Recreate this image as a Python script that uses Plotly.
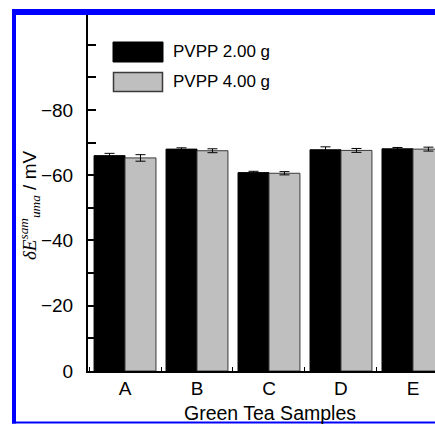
import plotly.graph_objects as go

samples = ["A", "B", "C", "D", "E"]
pvpp2 = [-66.0, -68.0, -60.8, -67.8, -68.1]
pvpp2_err = [0.7, 0.4, 0.4, 0.9, 0.4]
pvpp4 = [-65.3, -67.5, -60.6, -67.6, -68.0]
pvpp4_err = [1.0, 0.6, 0.5, 0.6, 0.6]
y_tick_vals = [0, -10, -20, -30, -40, -50, -60, -70, -80, -90, -100]
y_tick_text = ["0", " ", "\u221220", " ", "\u221240", " ", "\u221260", " ", "\u221280", " ", " "]
legend_names = ["PVPP 2.00 g", "PVPP 4.00 g"]

W, H = 435, 424
L, R, T, B = 88, 0, 15, 53
PW, PH = W - L - R, H - T - B


def px(x):
    return (x - L) / PW


def py(y):
    return (H - B - y) / PH


FONT = "Liberation Sans, Arial, sans-serif"

fig = go.Figure()
fig.add_trace(go.Bar(
    x=samples, y=pvpp2, name=legend_names[0],
    marker=dict(color="black", line=dict(color="black", width=1)),
    error_y=dict(type="data", array=pvpp2_err, color="black", thickness=1, width=5),
))
fig.add_trace(go.Bar(
    x=samples, y=pvpp4, name=legend_names[1],
    marker=dict(color="#bfbfbf", line=dict(color="#3a3a3a", width=1)),
    error_y=dict(type="data", array=pvpp4_err, color="black", thickness=1, width=5),
))

shapes = []
# blue frame
for (x0, x1, y0, y1) in [(12, 16, 9, 423.5), (12, 440, 9, 15), (12, 440, 421.5, 423.5)]:
    shapes.append(dict(type="rect", xref="paper", yref="paper",
                       x0=px(x0), x1=px(x1), y0=py(y1), y1=py(y0),
                       fillcolor="blue", line=dict(width=0), layer="above"))
# legend boxes
shapes.append(dict(type="rect", xref="paper", yref="paper",
                   x0=px(113), x1=px(163), y0=py(62), y1=py(42),
                   fillcolor="black", line=dict(color="black", width=1)))
shapes.append(dict(type="rect", xref="paper", yref="paper",
                   x0=px(113.5), x1=px(162.5), y0=py(91.5), y1=py(72.5),
                   fillcolor="#bfbfbf", line=dict(color="#3a3a3a", width=1.5)))

annotations = [
    dict(xref="paper", yref="paper", x=px(171), y=py(52), text=legend_names[0],
         showarrow=False, xanchor="left", yanchor="middle",
         font=dict(family=FONT, size=17, color="black")),
    dict(xref="paper", yref="paper", x=px(171), y=py(82), text=legend_names[1],
         showarrow=False, xanchor="left", yanchor="middle",
         font=dict(family=FONT, size=17, color="black")),
    dict(xref="paper", yref="paper", x=px(270), y=py(413), text="Green Tea Samples",
         showarrow=False, xanchor="center", yanchor="middle",
         font=dict(family=FONT, size=19.5, color="black")),
    dict(xref="paper", yref="paper", x=px(29), y=py(205),
         text=("<span style='font-family:Liberation Serif, Times New Roman, serif'><i>\u03b4E</i>"
               "<sup><i>sam</i></sup><sub><i>uma</i></sub></span> / mV"),
         textangle=-90, showarrow=False, xanchor="center", yanchor="middle",
         font=dict(family=FONT, size=19, color="black")),
]

fig.update_layout(
    width=W, height=H,
    margin=dict(l=L, r=R, t=T, b=B, pad=0),
    paper_bgcolor="white", plot_bgcolor="white",
    barmode="group", bargap=0.14, bargroupgap=0,
    showlegend=False,
    shapes=shapes, annotations=annotations,
    font=dict(family=FONT, size=18, color="black"),
)
fig.update_xaxes(
    type="category", range=[-0.514, 4.306],
    showline=True, linecolor="black", linewidth=2,
    ticks="inside", tickson="boundaries", ticklen=4, tickwidth=1, tickcolor="black",
    showgrid=False, zeroline=False,
    tickfont=dict(family=FONT, size=19, color="black"),
    ticklabelstandoff=-1,
)
fig.update_yaxes(
    range=[0, -109.1],
    tickvals=y_tick_vals, ticktext=y_tick_text,
    showline=True, linecolor="black", linewidth=2,
    ticks="inside", ticklen=8, tickwidth=1.5, tickcolor="black",
    showgrid=False, zeroline=False,
    tickfont=dict(family=FONT, size=19, color="black"),
    ticklabelstandoff=9,
)

fig.write_html("out.html")
